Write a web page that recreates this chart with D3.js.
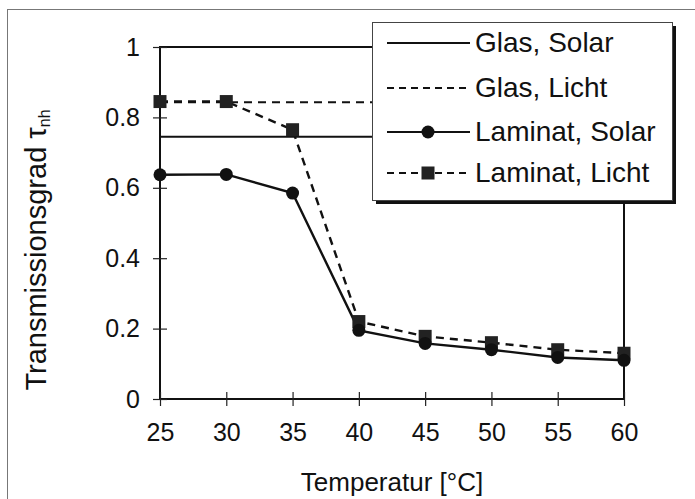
<!DOCTYPE html>
<html><head><meta charset="utf-8">
<script src="https://cdn.jsdelivr.net/npm/d3@7"></script>
<style>
body{margin:0;background:#fff;}
text{font-family:"Liberation Sans",Arial,sans-serif;fill:#111;}
</style></head>
<body><svg id="c" width="695" height="499"></svg>
<script>
const temps = [25,30,35,40,45,50,55,60];
const glasSolar = [0.745,0.745,0.745,0.745,0.745,0.745,0.745,0.745];
const glasLicht = [0.843,0.843,0.843,0.843,0.843,0.843,0.843,0.843];
const laminatSolar = [0.637,0.638,0.585,0.195,0.158,0.14,0.118,0.11];
const laminatLicht = [0.845,0.845,0.765,0.22,0.178,0.16,0.14,0.13];
const yTicks = [0,0.2,0.4,0.6,0.8,1];
const yTickLabels = ["0","0.2","0.4","0.6","0.8","1"];
const legendLabels = ["Glas, Solar","Glas, Licht","Laminat, Solar","Laminat, Licht"];
const xTitle = "Temperatur [°C]";

const svg = d3.select("#c");
const x = d3.scaleLinear().domain([25,60]).range([160,624]);
const y = d3.scaleLinear().domain([0,1]).range([399,47]);

// outer border
svg.append("rect").attr("x",7.5).attr("y",9.5).attr("width",700).attr("height",500)
  .attr("fill","none").attr("stroke","#777").attr("stroke-width",1);

// plot frame
svg.append("rect").attr("x",x(25)).attr("y",y(1)).attr("width",x(60)-x(25)).attr("height",y(0)-y(1))
  .attr("fill","none").attr("stroke","#111").attr("stroke-width",2);

// axes
const xAxis = d3.axisBottom(x).tickValues(temps).tickSize(7).tickPadding(17).tickFormat(d3.format("d"));
const gx = svg.append("g").attr("transform",`translate(0,${y(0)})`).call(xAxis);
gx.select(".domain").remove();
gx.selectAll(".tick line").attr("y1",-7).attr("stroke","#222").attr("stroke-width",1.2);
gx.selectAll(".tick text").attr("font-size",25).attr("fill","#111").attr("font-family","Liberation Sans, Arial, sans-serif");

const yAxis = d3.axisLeft(y).tickValues(yTicks).tickSize(7).tickPadding(13).tickFormat((d,i)=>yTickLabels[i]);
const gy = svg.append("g").attr("transform",`translate(${x(25)},0)`).call(yAxis);
gy.select(".domain").remove();
gy.selectAll(".tick line").attr("x1",7).attr("stroke","#222").attr("stroke-width",1.2);
gy.selectAll(".tick text").attr("font-size",25).attr("fill","#111").attr("font-family","Liberation Sans, Arial, sans-serif");

// series
const line = d3.line().x((d,i)=>x(temps[i])).y(d=>y(d));
svg.append("path").datum(glasSolar).attr("d",line).attr("fill","none").attr("stroke","#111").attr("stroke-width",2.2);
svg.append("path").datum(glasLicht).attr("d",line).attr("fill","none").attr("stroke","#111").attr("stroke-width",2.2).attr("stroke-dasharray","8,6");
svg.append("path").datum(laminatLicht).attr("d",line).attr("fill","none").attr("stroke","#111").attr("stroke-width",2.4).attr("stroke-dasharray","8,6");
svg.append("path").datum(laminatSolar).attr("d",line).attr("fill","none").attr("stroke","#111").attr("stroke-width",2.4);

svg.selectAll(".sq").data(laminatLicht).enter().append("rect")
  .attr("x",(d,i)=>x(temps[i])-6.5).attr("y",d=>y(d)-6.5).attr("width",13).attr("height",13).attr("fill","#222");
svg.selectAll(".ci").data(laminatSolar).enter().append("circle")
  .attr("cx",(d,i)=>x(temps[i])).attr("cy",d=>y(d)).attr("r",6.5).attr("fill","#111");

// axis titles
svg.append("text").attr("x",(x(25)+x(60))/2).attr("y",491).attr("text-anchor","middle")
  .attr("font-size",26).text(xTitle);
const yt = svg.append("text").attr("transform","translate(46,250) rotate(-90)").attr("text-anchor","middle").attr("font-size",29);
yt.append("tspan").text("Transmissionsgrad τ");
yt.append("tspan").attr("font-size",16).attr("dy",4).text("nh");

// legend
const lg = svg.append("g");
lg.append("rect").attr("x",376).attr("y",26).attr("width",300).attr("height",178).attr("fill","#111");
lg.append("rect").attr("x",372.5).attr("y",22.5).attr("width",300).attr("height",178).attr("fill","#fff").attr("stroke","#444").attr("stroke-width",1);
const rows = [43,88,132,173];
const styles = [
  {dash:null, marker:null},
  {dash:"7,5", marker:null},
  {dash:null, marker:"circle"},
  {dash:"7,5", marker:"square"}
];
legendLabels.forEach((lab,i)=>{
  const cy = rows[i];
  const s = styles[i];
  lg.append("line").attr("x1",387).attr("x2",470).attr("y1",cy).attr("y2",cy)
    .attr("stroke","#111").attr("stroke-width",1.8).attr("stroke-dasharray",s.dash);
  if(s.marker==="circle") lg.append("circle").attr("cx",428).attr("cy",cy).attr("r",6.5).attr("fill","#111");
  if(s.marker==="square") lg.append("rect").attr("x",421.5).attr("y",cy-6.5).attr("width",13).attr("height",13).attr("fill","#222");
  lg.append("text").attr("x",475).attr("y",cy+9).attr("font-size",28).text(lab);
});
</script></body></html>
